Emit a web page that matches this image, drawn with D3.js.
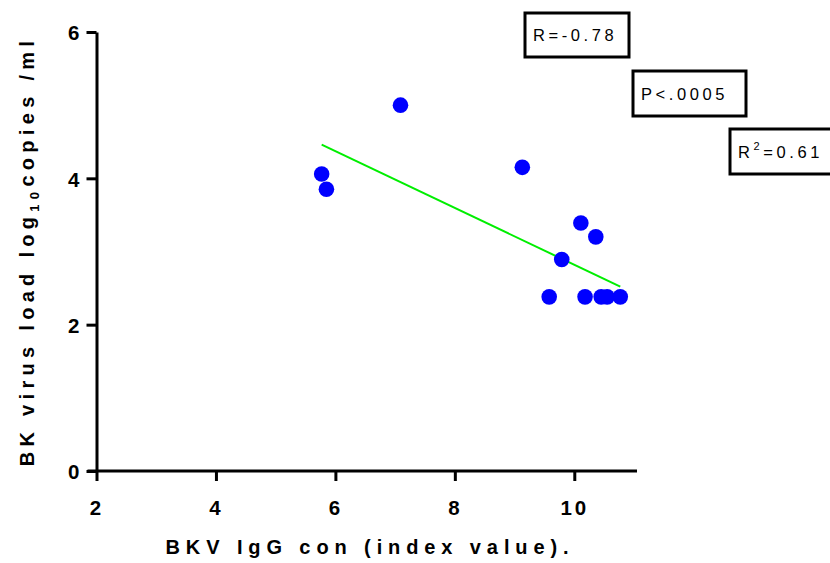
<!DOCTYPE html>
<html><head><meta charset="utf-8">
<script src="https://cdn.jsdelivr.net/npm/d3@7"></script>
<style>body{margin:0;background:#fff}svg{display:block}</style>
</head><body>
<script>
const xValues = [5.77, 5.85, 7.09, 9.13, 10.11, 10.36, 9.79, 9.58, 10.18, 10.45, 10.55, 10.77];
const yValues = [4.06, 3.85, 5.00, 4.15, 3.39, 3.20, 2.89, 2.38, 2.38, 2.38, 2.38, 2.38];
const fitX = [5.77, 10.77];
const fitY = [4.46, 2.52];
const xTicks = [2, 4, 6, 8, 10];
const yTicks = [0, 2, 4, 6];
const statLabels = ["R=-0.78", "P<.0005", "R2=0.61"];

const W = 830, H = 563;
const svg = d3.select("body").append("svg").attr("width", W).attr("height", H);
const x = d3.scaleLinear().domain([2, 11.05]).range([96.5, 637]);
const y = d3.scaleLinear().domain([0, 6]).range([471, 32]);
const font = "Liberation Sans, Arial, sans-serif";

// axes
const xa = svg.append("g").attr("transform", `translate(0,${y(0)})`)
  .call(d3.axisBottom(x).tickValues(xTicks).tickFormat(d3.format("d")).tickSize(10).tickPadding(19).tickSizeOuter(0));
const ya = svg.append("g").attr("transform", `translate(${x(2)},0)`)
  .call(d3.axisLeft(y).tickValues(yTicks).tickFormat(d3.format("d")).tickSize(10).tickPadding(7).tickSizeOuter(0));
[xa, ya].forEach(a => {
  a.select(".domain").attr("stroke", "#000").attr("stroke-width", 3);
  a.selectAll(".tick line").attr("stroke", "#000").attr("stroke-width", 3);
  a.selectAll(".tick text").attr("fill", "#000").style("font-family", font)
    .style("font-size", "20.5px").style("font-weight", "bold");
});
xa.selectAll(".tick text").style("letter-spacing", "3px");
ya.selectAll(".tick text").attr("dy", "0.38em");
xa.select(".domain").attr("d", `M${x(2)-9},0H${x.range()[1]}`);

// fit line
svg.append("line")
  .attr("x1", x(fitX[0])).attr("y1", y(fitY[0]))
  .attr("x2", x(fitX[1])).attr("y2", y(fitY[1]))
  .attr("stroke", "#00ee00").attr("stroke-width", 2);

// points
svg.append("g").selectAll("circle").data(xValues).join("circle")
  .attr("cx", (d) => x(d)).attr("cy", (d, i) => y(yValues[i]))
  .attr("r", 7.8).attr("fill", "#0000ff");

// axis titles
svg.append("text").attr("x", 370).attr("y", 554).attr("text-anchor", "middle")
  .style("font-family", font).style("font-size", "20px").style("font-weight", "bold")
  .style("letter-spacing", "5.9px").text("BKV IgG con (index value).");

const yt = svg.append("text").attr("transform", "translate(34,251) rotate(-90)")
  .attr("text-anchor", "middle")
  .style("font-family", font).style("font-size", "20px").style("font-weight", "bold")
  .style("letter-spacing", "5.3px");
yt.append("tspan").text("BK virus load log");
yt.append("tspan").attr("dy", 5).style("font-size", "13px").text("10");
yt.append("tspan").attr("dy", -5).text("copies /ml");

// stat boxes
const boxes = [
  {x0: 525, y0: 13, w: 104, h: 44},
  {x0: 633, y0: 71, w: 113, h: 45},
  {x0: 730, y0: 129, w: 105, h: 45}
];
boxes.forEach((b, i) => {
  svg.append("rect").attr("x", b.x0).attr("y", b.y0).attr("width", b.w).attr("height", b.h)
    .attr("fill", "#fff").attr("stroke", "#000").attr("stroke-width", 3);
  const t = svg.append("text").attr("x", b.x0 + 8).attr("y", b.y0 + b.h / 2 + 6)
    .style("font-family", font).style("font-size", "16.5px").style("letter-spacing", "3.6px");
  if (i === 2) {
    t.append("tspan").text("R");
    t.append("tspan").attr("dy", -8).style("font-size", "11px").text("2");
    t.append("tspan").attr("dy", 8).text("=0.61");
  } else {
    t.text(statLabels[i]);
  }
});
</script>
</body></html>
